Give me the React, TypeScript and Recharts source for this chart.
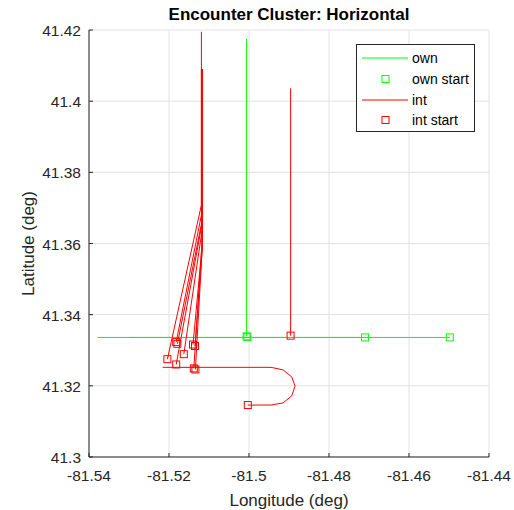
import React from 'react';
import { ScatterChart, Scatter, XAxis, YAxis, CartesianGrid, Legend } from 'recharts';

const FONT = "'Liberation Sans', Arial, Helvetica, sans-serif";
const AXIS_COLOR = '#262626';
const OWN_COLOR = '#00ff00';
const INT_COLOR = '#ff0000';

const lonTicks = [-81.54, -81.52, -81.5, -81.48, -81.46, -81.44];
const latTicks = [41.3, 41.32, 41.34, 41.36, 41.38, 41.4, 41.42];

type Pt = { lon: number; lat: number };
const P = (lon: number, lat: number): Pt => ({ lon, lat });

// Ownship trajectories
const ownNorth: Pt[] = [P(-81.5006, 41.3339), P(-81.5006, 41.4175)];
const ownWestFar: Pt[] = [P(-81.4498, 41.3336), P(-81.5379, 41.3336)];
const ownWestNear: Pt[] = [P(-81.471, 41.3336), P(-81.53, 41.3336)];
const ownStarts: Pt[] = [
  P(-81.5006, 41.3339),
  P(-81.5004, 41.3337),
  P(-81.471, 41.3336),
  P(-81.4498, 41.3336),
];

// Intruder trajectories
const int1: Pt[] = [P(-81.5182, 41.3323), P(-81.5119, 41.368), P(-81.5119, 41.4195)];
const int2: Pt[] = [P(-81.5179, 41.3318), P(-81.5118, 41.366), P(-81.5118, 41.409)];
const int3: Pt[] = [P(-81.5163, 41.3289), P(-81.5118, 41.3632), P(-81.5118, 41.409)];
const int4: Pt[] = [P(-81.514, 41.3316), P(-81.5117, 41.3596), P(-81.5117, 41.409)];
const int5: Pt[] = [P(-81.5135, 41.3312), P(-81.5117, 41.3582), P(-81.5117, 41.409)];
const int6: Pt[] = [P(-81.5204, 41.3275), P(-81.5119, 41.3708), P(-81.5119, 41.409)];
const int7: Pt[] = [P(-81.5182, 41.326), P(-81.5118, 41.3652), P(-81.5118, 41.409)];
const int8: Pt[] = [P(-81.5138, 41.3249), P(-81.5117, 41.361), P(-81.5117, 41.409)];
const int9: Pt[] = [P(-81.5134, 41.3246), P(-81.5117, 41.3587), P(-81.5117, 41.409)];
const int10: Pt[] = [P(-81.4896, 41.3341), P(-81.4896, 41.4036)];
const int11: Pt[] = [
  P(-81.5003, 41.3146),
  P(-81.4945, 41.3146),
  P(-81.4915, 41.3152),
  P(-81.4893, 41.3172),
  P(-81.4885, 41.3199),
  P(-81.4893, 41.3225),
  P(-81.4915, 41.3245),
  P(-81.4945, 41.3252),
  P(-81.5216, 41.3252),
];
const intStarts: Pt[] = [
  P(-81.5182, 41.3323),
  P(-81.5179, 41.3318),
  P(-81.5163, 41.3289),
  P(-81.514, 41.3316),
  P(-81.5135, 41.3312),
  P(-81.5204, 41.3275),
  P(-81.5182, 41.326),
  P(-81.5138, 41.3249),
  P(-81.5134, 41.3246),
  P(-81.4896, 41.3341),
  P(-81.5003, 41.3146),
];

const ownTracks = [ownNorth, ownWestFar, ownWestNear];
const intTracks = [int1, int2, int3, int4, int5, int6, int7, int8, int9, int10, int11];

const legendLabels = ['own', 'own start', 'int', 'int start'];

const fmt = (v: number) => String(Number(v.toFixed(2)));

const NoPoint = () => <g />;

const squareShape = (color: string) => (props: any) => (
  <rect
    x={props.cx - 3.5}
    y={props.cy - 3.5}
    width={7}
    height={7}
    fill="none"
    stroke={color}
    strokeWidth={1}
  />
);

const XTick = (props: any) => {
  const { x, y, payload } = props;
  return (
    <g>
      <line x1={x} y1={y} x2={x} y2={y - 4} stroke={AXIS_COLOR} strokeWidth={1} />
      <text x={x} y={y + 23.5} textAnchor="middle" fontSize={15.5} fontFamily={FONT} fill={AXIS_COLOR}>
        {fmt(payload.value)}
      </text>
    </g>
  );
};

const YTick = (props: any) => {
  const { x, y, payload } = props;
  return (
    <g>
      <line x1={x} y1={y} x2={x + 4} y2={y} stroke={AXIS_COLOR} strokeWidth={1} />
      <text x={x - 8} y={y + 6} textAnchor="end" fontSize={15.5} fontFamily={FONT} fill={AXIS_COLOR}>
        {fmt(payload.value)}
      </text>
    </g>
  );
};

const XLabel = (props: any) => {
  const vb = props.viewBox;
  return (
    <text
      x={vb.x + vb.width / 2}
      y={vb.y + 49}
      textAnchor="middle"
      fontSize={17}
      fontFamily={FONT}
      fill={AXIS_COLOR}
    >
      Longitude (deg)
    </text>
  );
};

const YLabel = (props: any) => {
  const vb = props.viewBox;
  const cy = vb.y + vb.height / 2;
  return (
    <text
      transform={`translate(33.5, ${cy}) rotate(-90)`}
      textAnchor="middle"
      fontSize={17}
      fontFamily={FONT}
      fill={AXIS_COLOR}
    >
      Latitude (deg)
    </text>
  );
};

const LegendBox = () => {
  const rows = [14, 35, 56, 76];
  return (
    <svg width={119} height={88} style={{ display: 'block' }}>
      <rect x={0.5} y={0.5} width={118} height={87} fill="#ffffff" stroke={AXIS_COLOR} strokeWidth={1} />
      <line x1={6} y1={rows[0]} x2={52} y2={rows[0]} stroke={OWN_COLOR} strokeWidth={1} />
      <rect x={26} y={rows[1] - 3.5} width={7} height={7} fill="none" stroke={OWN_COLOR} />
      <line x1={6} y1={rows[2]} x2={52} y2={rows[2]} stroke={INT_COLOR} strokeWidth={1} />
      <rect x={26} y={rows[3] - 3.5} width={7} height={7} fill="none" stroke={INT_COLOR} />
      {legendLabels.map((t, i) => (
        <text key={t} x={56} y={rows[i] + 5} fontSize={14} fontFamily={FONT} fill="#000">
          {t}
        </text>
      ))}
    </svg>
  );
};

export default function App() {
  return (
    <div style={{ position: 'absolute', left: 0, top: 0, width: 514, height: 510, background: '#fff' }}>
      <div
        style={{
          position: 'absolute',
          left: 89,
          width: 400,
          top: 6,
          textAlign: 'center',
          fontFamily: FONT,
          fontWeight: 'bold',
          fontSize: 17,
          lineHeight: '17px',
          color: '#000',
        }}
      >
        Encounter Cluster: Horizontal
      </div>
      <ScatterChart width={514} height={510} margin={{ top: 30, right: 25, bottom: 0, left: 0 }}>
        <CartesianGrid stroke="#e2e2e2" strokeWidth={1} />
        <XAxis
          type="number"
          dataKey="lon"
          domain={[-81.54, -81.44]}
          ticks={lonTicks}
          height={53}
          tickSize={0}
          tickMargin={0}
          tickLine={false}
          tick={<XTick />}
          axisLine={{ stroke: AXIS_COLOR, strokeWidth: 1 }}
          interval={0}
          allowDataOverflow
          label={XLabel}
        />
        <YAxis
          type="number"
          dataKey="lat"
          domain={[41.3, 41.42]}
          ticks={latTicks}
          width={89}
          tickSize={0}
          tickMargin={0}
          tickLine={false}
          tick={<YTick />}
          axisLine={{ stroke: AXIS_COLOR, strokeWidth: 1 }}
          interval={0}
          allowDataOverflow
          label={YLabel}
        />
        <Legend
          content={LegendBox}
          layout="horizontal"
          verticalAlign="middle"
          align="center"
          wrapperStyle={{ left: 356, top: 44, width: 119, height: 88 }}
        />
        {ownTracks.map((d, i) => (
          <Scatter
            key={`own-${i}`}
            data={d}
            line={{ stroke: OWN_COLOR, strokeWidth: 1 }}
            lineJointType="linear"
            shape={NoPoint}
            isAnimationActive={false}
          />
        ))}
        {intTracks.map((d, i) => (
          <Scatter
            key={`int-${i}`}
            data={d}
            line={{ stroke: INT_COLOR, strokeWidth: 1 }}
            lineJointType="linear"
            shape={NoPoint}
            isAnimationActive={false}
          />
        ))}
        <Scatter data={ownStarts} shape={squareShape(OWN_COLOR)} isAnimationActive={false} />
        <Scatter data={intStarts} shape={squareShape(INT_COLOR)} isAnimationActive={false} />
      </ScatterChart>
    </div>
  );
}
